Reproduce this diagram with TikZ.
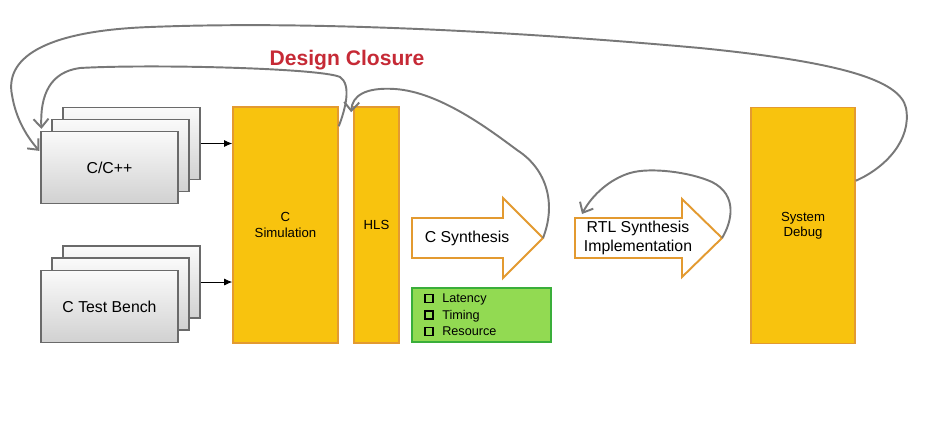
\documentclass[tikz,border=0pt]{standalone}
\usepackage{fontspec}
\setmainfont{Liberation Sans}
\usepackage{xcolor}
\usetikzlibrary{positioning,arrows.meta,calc}

\definecolor{hlsgold}{HTML}{F8C30E}
\definecolor{hlsedge}{HTML}{E39A30}
\definecolor{loopgray}{HTML}{787878}
\definecolor{closurered}{HTML}{C62A36}
\definecolor{metricgreen}{HTML}{92DA52}
\definecolor{metricedge}{HTML}{3AAE3A}
\definecolor{cardedge}{HTML}{6A6A6A}

\newcommand{\sqbullet}{\raisebox{0.15ex}{\setlength{\fboxsep}{0pt}\setlength{\fboxrule}{0.9pt}\fbox{\rule{0pt}{3.6pt}\hspace{3.6pt}}}\hspace{5pt}}

\begin{document}
\begin{tikzpicture}[x=0.02cm, y=-0.02cm,
      card/.style={draw=cardedge, line width=0.7pt, top color=gray!4, bottom color=gray!36,
                   minimum width=2.74cm, minimum height=1.44cm, align=center,
                   font=\fontsize{9pt}{11pt}\selectfont},
      stage/.style={draw=hlsedge, line width=0.9pt, fill=hlsgold, minimum height=4.72cm,
                    align=center, font=\fontsize{7.5pt}{8.8pt}\selectfont},
      flowarrow/.style={draw=hlsedge, line width=1.1pt, fill=white, line join=miter},
      flowtext/.style={align=center, font=\fontsize{9pt}{11.2pt}\selectfont},
      metrics/.style={draw=metricedge, line width=1pt, fill=metricgreen, minimum width=2.78cm,
                      minimum height=1.08cm, inner xsep=0.22cm, text width=2.3cm,
                      align=left, font=\fontsize{7.2pt}{9.4pt}\selectfont},
      feed/.style={-{Latex[length=1.6mm,width=1.4mm]}, line width=0.5pt, black},
      loopback/.style={-{Straight Barb[length=1.7mm,width=3mm]}, line width=1.1pt, loopgray}
  ]
  \useasboundingbox[fill=white] (0,0) rectangle (946,440);

  %% ---- Source stacks ----
  \node[card] (cppc) at (131.5,143.5) {};
  \node[card] (cppb) at (120.5,155.5) {};
  \node[card] (cpp)  at (109.5,167.5) {C/C++};

  \node[card] (tbc) at (131.5,282) {};
  \node[card] (tbb) at (120.5,294) {};
  \node[card] (tb)  at (109.5,306.5) {C Test Bench};

  %% ---- Stages ----
  \node[stage, minimum width=2.1cm] (csim) at (285.5,225) {C\\Simulation};
  \node[stage, minimum width=0.9cm] (hls) at (376.5,225) {HLS};
  \node[stage, minimum width=2.08cm] (debug) at (803,225.5) {System\\Debug};

  %% ---- Block arrows ----
  \draw[flowarrow] (412,218) -- (503,218) -- (503,198) -- (543,238) -- (503,278)
      -- (503,258) -- (412,258) -- cycle;
  \node[flowtext] (csyn) at (467,238) {C Synthesis};
  \coordinate (csyntip) at (543,238);

  \draw[flowarrow] (575,218) -- (682,218) -- (682,199) -- (722,238) -- (682,277)
      -- (682,258) -- (575,258) -- cycle;
  \node[flowtext] (rtl) at (638,238) {RTL Synthesis\\Implementation};
  \coordinate (rtltip) at (722,238);
  \coordinate (rtlcorner) at (575,218);

  %% ---- Metrics ----
  \node[metrics] (qor) at (481.5,315)
      {\sqbullet Latency\\ \sqbullet Timing\\ \sqbullet Resource};

  %% ---- Title ----
  \node[font=\fontsize{12pt}{14pt}\selectfont\bfseries, text=closurered] (closure)
      at (347,60) {Design Closure};

  %% ---- Connections ----

  % sources into C simulation
  \draw[feed] (cppc.east) -- (cppc.east -| csim.west);
  \draw[feed] (tbc.east) -- (tbc.east -| csim.west);

  % outer loop: system debug back to the source
  \draw[loopback] ($(debug.north east)+(0,74)$)
      .. controls (885,168) and (912,140) .. (906,108)
      .. controls (900,80) and (840,62) .. (700,48)
      .. controls (500,30) and (300,21) .. (150,27)
      .. controls (40,31) and (5,60) .. (12,95)
      .. controls (16,120) and (28,138) .. ($(cpp.north west)+(-1,20)$);

  % C simulation back to the source
  \draw[loopback] ($(csim.north east)+(0,20)$)
      .. controls (345,110) and (352,85) .. (340,77)
      .. controls (320,68) and (150,64) .. (80,68)
      .. controls (50,72) and (40,95) .. ($(cpp.north west)+(1,-2)$);

  % C synthesis back to HLS
  \draw[loopback] (csyntip)
      .. controls (556,205) and (548,170) .. (517,150)
      .. controls (490,130) and (440,92) .. (395,89)
      .. controls (365,87) and (352,96) .. ($(hls.north west)+(-2,6)$);

  % RTL synthesis loops on itself
  \draw[loopback] (rtltip)
      .. controls (732,222) and (738,195) .. (712,182)
      .. controls (690,172) and (650,167) .. (630,173)
      .. controls (610,179) and (592,195) .. ($(rtlcorner)+(7,-4)$);

\end{tikzpicture}
\end{document}
